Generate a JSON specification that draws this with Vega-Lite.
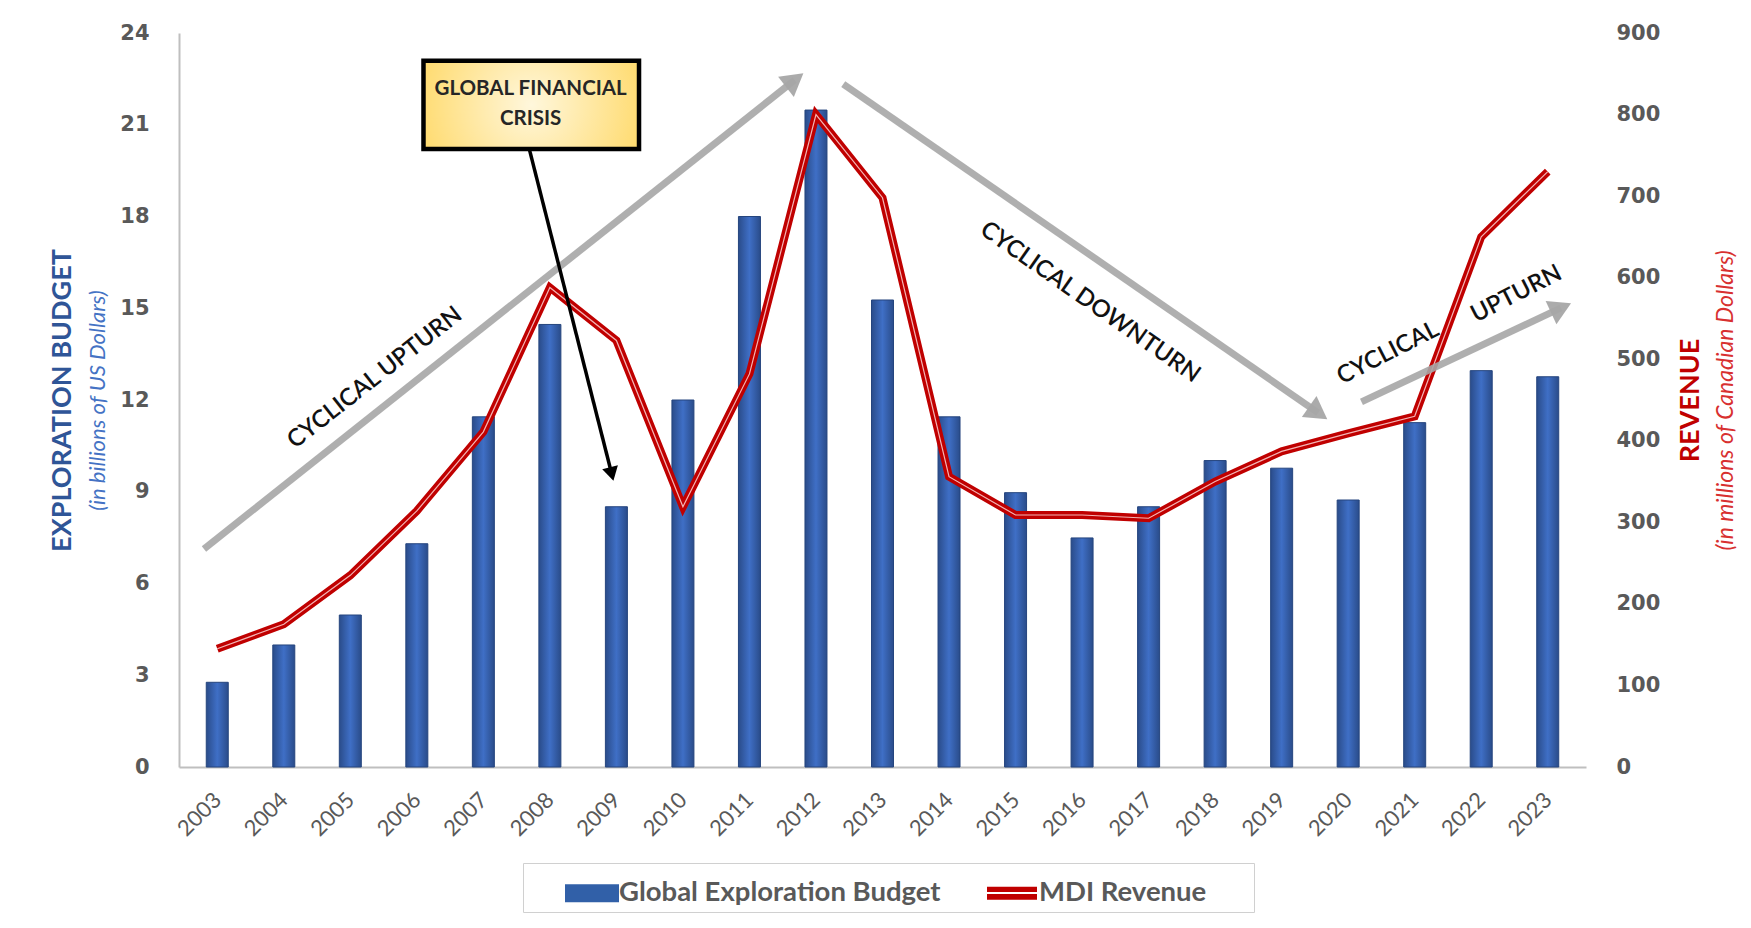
{
  "$schema": "https://vega.github.io/schema/vega-lite/v6.json",
  "width": 1407,
  "height": 734,
  "autosize": {"type": "none"},
  "padding": {"left": 179, "top": 33, "right": 165, "bottom": 161},
  "background": "white",
  "config": {
    "view": {"fill": "#F2F2F2", "stroke": null},
    "font": "Lato",
    "axis": {"grid": false, "ticks": false, "labelColor": "#595959", "domainColor": "#BFBFBF", "domainWidth": 2}
  },
  "datasets": {
    "main": [
      {"year": 2003, "budget": 2.77, "revenue": 145},
      {"year": 2004, "budget": 3.99, "revenue": 175},
      {"year": 2005, "budget": 4.97, "revenue": 235},
      {"year": 2006, "budget": 7.3, "revenue": 314},
      {"year": 2007, "budget": 11.45, "revenue": 411},
      {"year": 2008, "budget": 14.47, "revenue": 588},
      {"year": 2009, "budget": 8.51, "revenue": 523},
      {"year": 2010, "budget": 12.0, "revenue": 319},
      {"year": 2011, "budget": 18.0, "revenue": 482},
      {"year": 2012, "budget": 21.48, "revenue": 800},
      {"year": 2013, "budget": 15.27, "revenue": 698},
      {"year": 2014, "budget": 11.45, "revenue": 356},
      {"year": 2015, "budget": 8.97, "revenue": 309},
      {"year": 2016, "budget": 7.49, "revenue": 309},
      {"year": 2017, "budget": 8.51, "revenue": 305},
      {"year": 2018, "budget": 10.02, "revenue": 350},
      {"year": 2019, "budget": 9.77, "revenue": 387},
      {"year": 2020, "budget": 8.73, "revenue": 409},
      {"year": 2021, "budget": 11.26, "revenue": 430},
      {"year": 2022, "budget": 12.96, "revenue": 650},
      {"year": 2023, "budget": 12.76, "revenue": 730}
    ],
    "arrows": [
      {"arrow": "up1", "x1": 2002.8, "y1": 7.13, "x2": 2011.68, "y2": 22.46},
      {"arrow": "down", "x1": 2012.41, "y1": 22.33, "x2": 2019.55, "y2": 11.58},
      {"arrow": "up2", "x1": 2020.2, "y1": 11.94, "x2": 2023.2, "y2": 15.01},
      {"arrow": "crisis", "x1": 2007.69, "y1": 20.21, "x2": 2008.93, "y2": 9.58}
    ],
    "notes": [
      {"note": "CYCLICAL UPTURN", "x": 2005.37, "y": 12.72},
      {"note": "CYCLICAL DOWNTURN", "x": 2016.12, "y": 15.19},
      {"note": "CYCLICAL", "x": 2020.6, "y": 13.53},
      {"note": "UPTURN", "x": 2022.53, "y": 15.46}
    ],
    "box": [{"x1": 2006.1, "x2": 2009.34, "y1": 23.09, "y2": 20.21}],
    "boxtext": [
      {"line": "GLOBAL FINANCIAL", "x": 2007.71, "y": 22.17},
      {"line": "CRISIS", "x": 2007.71, "y": 21.19}
    ],
    "legend": [
      {"series": "Global Exploration Budget"},
      {"series": "MDI Revenue"}
    ]
  },
  "resolve": {"scale": {"y": "independent"}, "axis": {"x": "independent", "y": "independent"}},
  "layer": [
    {
      "data": {"name": "main"},
      "mark": {
        "type": "bar", "size": 22, "stroke": "#25457E", "strokeWidth": 1,
        "color": {"gradient": "linear", "x1": 0, "x2": 1, "y1": 0, "y2": 0,
          "stops": [{"offset": 0, "color": "#2A4C8A"}, {"offset": 0.5, "color": "#3F6FC6"}, {"offset": 1, "color": "#2A4C8A"}]}
      },
      "encoding": {
        "x": {"field": "year", "type": "quantitative",
          "scale": {"domain": [2002.5, 2023.5], "nice": false, "zero": false},
          "axis": {"values": [2003,2004,2005,2006,2007,2008,2009,2010,2011,2012,2013,2014,2015,2016,2017,2018,2019,2020,2021,2022,2023],
            "format": "d", "title": null, "labelAngle": -45, "labelAlign": "right", "labelBaseline": "middle",
            "labelPadding": 29, "labelFontSize": 22, "labelFont": "Lato", "labelColor": "#595959", "labelFlush": false, "labelOverlap": false}},
        "y": {"field": "budget", "type": "quantitative",
          "scale": {"domain": [0, 24], "nice": false},
          "axis": {"orient": "left", "values": [0,3,6,9,12,15,18,21,24], "labelFont": "DejaVu Sans", "labelFontWeight": "bold",
            "labelFontSize": 21, "labelPadding": 30, "title": "EXPLORATION BUDGET", "titleFont": "Lato", "titleFontWeight": "bold",
            "titleFontSize": 27, "titleColor": "#2F5597", "titlePadding": 43, "labelFlush": false}}
      }
    },
    {
      "data": {"name": "main"},
      "mark": {"type": "line", "color": "#C00000", "strokeWidth": 8, "strokeJoin": "miter"},
      "encoding": {
        "x": {"field": "year", "type": "quantitative", "scale": {"domain": [2002.5, 2023.5], "nice": false, "zero": false}, "axis": null},
        "y": {"field": "revenue", "type": "quantitative", "scale": {"domain": [0, 900], "nice": false},
          "axis": {"orient": "right", "values": [0,100,200,300,400,500,600,700,800,900], "domain": false, "labelFont": "DejaVu Sans",
            "labelFontWeight": "bold", "labelFontSize": 21, "labelPadding": 30, "labelFlush": false,
            "title": "REVENUE", "titleFont": "Lato", "titleFontWeight": "bold", "titleFontSize": 27, "titleColor": "#C00000",
            "titleAngle": -90, "titleBaseline": "top", "titlePadding": 18}}
      }
    },
    {
      "data": {"name": "main"},
      "mark": {"type": "line", "color": "#F3B5B5", "strokeWidth": 1.2, "strokeJoin": "miter"},
      "encoding": {
        "x": {"field": "year", "type": "quantitative", "scale": {"domain": [2002.5, 2023.5], "nice": false, "zero": false}, "axis": null},
        "y": {"field": "revenue", "type": "quantitative", "scale": {"domain": [0, 900], "nice": false},
          "axis": {"orient": "right", "labels": false, "domain": false, "title": "(in millions of Canadian Dollars)",
            "titleFont": "Lato", "titleFontStyle": "italic", "titleFontWeight": "normal", "titleFontSize": 23, "titleColor": "#D83030",
            "titleAngle": -90, "titleBaseline": "top", "titlePadding": 128}}
      }
    },
    {
      "data": {"name": "arrows"},
      "transform": [{"filter": "datum.arrow !== 'crisis'"}],
      "mark": {"type": "rule", "color": "#A6A6A6", "strokeWidth": 7, "opacity": 0.9},
      "encoding": {
        "x": {"field": "x1", "type": "quantitative", "scale": {"domain": [2002.5, 2023.5], "nice": false, "zero": false}, "axis": null},
        "x2": {"field": "x2"},
        "y": {"field": "y1", "type": "quantitative", "scale": {"domain": [0, 24], "nice": false}, "axis": null},
        "y2": {"field": "y2"}
      }
    },
    {
      "data": {"name": "arrows"},
      "transform": [{"filter": "datum.arrow === 'up1'"}],
      "mark": {"type": "point", "shape": "triangle-up", "filled": true, "color": "#A6A6A6", "opacity": 0.95, "size": 650, "angle": 52},
      "encoding": {
        "x": {"field": "x2", "type": "quantitative", "scale": {"domain": [2002.5, 2023.5], "nice": false, "zero": false}, "axis": null},
        "y": {"field": "y2", "type": "quantitative", "scale": {"domain": [0, 24], "nice": false}, "axis": null}
      }
    },
    {
      "data": {"name": "arrows"},
      "transform": [{"filter": "datum.arrow === 'down'"}],
      "mark": {"type": "point", "shape": "triangle-up", "filled": true, "color": "#A6A6A6", "opacity": 0.95, "size": 650, "angle": 125},
      "encoding": {
        "x": {"field": "x2", "type": "quantitative", "scale": {"domain": [2002.5, 2023.5], "nice": false, "zero": false}, "axis": null},
        "y": {"field": "y2", "type": "quantitative", "scale": {"domain": [0, 24], "nice": false}, "axis": null}
      }
    },
    {
      "data": {"name": "arrows"},
      "transform": [{"filter": "datum.arrow === 'up2'"}],
      "mark": {"type": "point", "shape": "triangle-up", "filled": true, "color": "#A6A6A6", "opacity": 0.95, "size": 650, "angle": 65},
      "encoding": {
        "x": {"field": "x2", "type": "quantitative", "scale": {"domain": [2002.5, 2023.5], "nice": false, "zero": false}, "axis": null},
        "y": {"field": "y2", "type": "quantitative", "scale": {"domain": [0, 24], "nice": false}, "axis": null}
      }
    },
    {
      "data": {"name": "notes"},
      "transform": [{"filter": "datum.note === 'CYCLICAL UPTURN'"}],
      "mark": {"type": "text", "angle": -38, "fontSize": 24, "font": "Lato", "fontWeight": 600, "color": "#111111", "align": "center", "baseline": "middle"},
      "encoding": {
        "x": {"field": "x", "type": "quantitative", "scale": {"domain": [2002.5, 2023.5], "nice": false, "zero": false}, "axis": null},
        "y": {"field": "y", "type": "quantitative", "scale": {"domain": [0, 24], "nice": false}, "axis": null},
        "text": {"field": "note"}
      }
    },
    {
      "data": {"name": "notes"},
      "transform": [{"filter": "datum.note === 'CYCLICAL DOWNTURN'"}],
      "mark": {"type": "text", "angle": 35, "fontSize": 24, "font": "Lato", "fontWeight": 600, "color": "#111111", "align": "center", "baseline": "middle"},
      "encoding": {
        "x": {"field": "x", "type": "quantitative", "scale": {"domain": [2002.5, 2023.5], "nice": false, "zero": false}, "axis": null},
        "y": {"field": "y", "type": "quantitative", "scale": {"domain": [0, 24], "nice": false}, "axis": null},
        "text": {"field": "note"}
      }
    },
    {
      "data": {"name": "notes"},
      "transform": [{"filter": "datum.note === 'CYCLICAL' || datum.note === 'UPTURN'"}],
      "mark": {"type": "text", "angle": -27, "fontSize": 24, "font": "Lato", "fontWeight": 600, "color": "#111111", "align": "center", "baseline": "middle"},
      "encoding": {
        "x": {"field": "x", "type": "quantitative", "scale": {"domain": [2002.5, 2023.5], "nice": false, "zero": false}, "axis": null},
        "y": {"field": "y", "type": "quantitative", "scale": {"domain": [0, 24], "nice": false}, "axis": null},
        "text": {"field": "note"}
      }
    },
    {
      "data": {"name": "box"},
      "mark": {
        "type": "rect", "stroke": "#000000", "strokeWidth": 4.5,
        "color": {"gradient": "radial", "x1": 0.5, "y1": 0.5, "r1": 0, "x2": 0.5, "y2": 0.5, "r2": 0.7,
          "stops": [{"offset": 0, "color": "#FFF7DC"}, {"offset": 1, "color": "#FFD24D"}]}
      },
      "encoding": {
        "x": {"field": "x1", "type": "quantitative", "scale": {"domain": [2002.5, 2023.5], "nice": false, "zero": false}, "axis": null},
        "x2": {"field": "x2"},
        "y": {"field": "y1", "type": "quantitative", "scale": {"domain": [0, 24], "nice": false},
          "axis": {"orient": "left", "labels": false, "domain": false, "title": "(in billions of US Dollars)", "titleFont": "Lato",
            "titleFontStyle": "italic", "titleFontWeight": "normal", "titleFontSize": 22, "titleColor": "#4472C4", "titlePadding": 70}},
        "y2": {"field": "y2"}
      }
    },
    {
      "data": {"name": "boxtext"},
      "mark": {"type": "text", "fontSize": 20.5, "font": "Lato", "fontWeight": "bold", "color": "#262626", "align": "center", "baseline": "middle"},
      "encoding": {
        "x": {"field": "x", "type": "quantitative", "scale": {"domain": [2002.5, 2023.5], "nice": false, "zero": false}, "axis": null},
        "y": {"field": "y", "type": "quantitative", "scale": {"domain": [0, 24], "nice": false}, "axis": null},
        "text": {"field": "line"}
      }
    },
    {
      "data": {"name": "arrows"},
      "transform": [{"filter": "datum.arrow === 'crisis'"}],
      "mark": {"type": "rule", "color": "#000000", "strokeWidth": 3.5},
      "encoding": {
        "x": {"field": "x1", "type": "quantitative", "scale": {"domain": [2002.5, 2023.5], "nice": false, "zero": false}, "axis": null},
        "x2": {"field": "x2"},
        "y": {"field": "y1", "type": "quantitative", "scale": {"domain": [0, 24], "nice": false}, "axis": null},
        "y2": {"field": "y2"}
      }
    },
    {
      "data": {"name": "arrows"},
      "transform": [{"filter": "datum.arrow === 'crisis'"}],
      "mark": {"type": "point", "shape": "triangle-up", "filled": true, "color": "#000000", "opacity": 1, "size": 260, "angle": 166},
      "encoding": {
        "x": {"field": "x2", "type": "quantitative", "scale": {"domain": [2002.5, 2023.5], "nice": false, "zero": false}, "axis": null},
        "y": {"field": "y2", "type": "quantitative", "scale": {"domain": [0, 24], "nice": false}, "axis": null}
      }
    },
    {
      "data": {"name": "legend"},
      "mark": {"type": "point", "filled": true, "size": 0, "strokeWidth": 0, "opacity": 1},
      "encoding": {
        "color": {"field": "series", "type": "nominal",
          "scale": {"domain": ["Global Exploration Budget", "MDI Revenue"], "range": ["#3160A8", "#C00000"]},
          "legend": {"orient": "none", "legendX": 344, "legendY": 830, "direction": "horizontal",
            "title": "\u00a0", "titleOrient": "left", "titleFontSize": 10, "titleColor": "white", "titlePadding": 39,
            "fillColor": "white", "strokeColor": "#D0D0D0", "padding": 5, "symbolSize": 2500, "symbolStrokeWidth": 0,
            "symbolOpacity": 1, "labelFont": "Lato", "labelFontWeight": "bold", "labelFontSize": 27.5, "labelColor": "#595959",
            "labelOffset": 2, "labelLimit": 600, "columnPadding": 46,
            "labelExpr": "datum.label === 'MDI Revenue' ? datum.label + '\u2800\u2800' : datum.label"}},
        "shape": {"field": "series", "type": "nominal",
          "scale": {"domain": ["Global Exploration Budget", "MDI Revenue"],
            "range": ["M-1.08,-0.36H1.08V0.36H-1.08Z", "M-1,-0.26H1V-0.05H-1Z M-1,0.03H1V0.26H-1Z"]}}
      }
    }
  ]
}
